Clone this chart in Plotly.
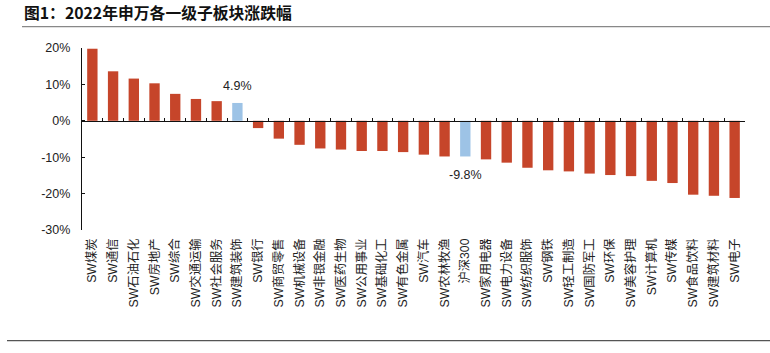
import plotly.graph_objects as go
import numpy as np

categories = ["SW煤炭", "SW通信", "SW石油石化", "SW房地产", "SW综合", "SW交通运输", "SW社会服务",
              "SW建筑装饰", "SW银行", "SW商贸零售", "SW机械设备", "SW非银金融", "SW医药生物",
              "SW公用事业", "SW基础化工", "SW有色金属", "SW汽车", "SW农林牧渔", "沪深300",
              "SW家用电器", "SW电力设备", "SW纺织服饰", "SW钢铁", "SW轻工制造", "SW国防军工",
              "SW环保", "SW美容护理", "SW计算机", "SW传媒", "SW食品饮料", "SW建筑材料", "SW电子"]
values = [19.8, 13.6, 11.6, 10.3, 7.4, 6.0, 5.4,
          4.9, -2.0, -4.9, -6.6, -7.6, -7.9,
          -8.3, -8.3, -8.6, -9.3, -9.8, -9.8,
          -10.6, -11.5, -12.9, -13.6, -13.9, -14.5,
          -14.9, -15.2, -16.5, -17.1, -20.3, -20.6, -21.2]
highlight = ["SW建筑装饰", "沪深300"]
y_ticks = [20, 10, 0, -10, -20, -30]
y_ticktext = ["20%", "10%", "0%", "-10%", "-20%", "-30%"]
title_text = "图1：2022年申万各一级子板块涨跌幅"

RED = "#C6452A"
BLUE = "#9DC3E6"
colors = [BLUE if c in highlight else RED for c in categories]

W, H = 770, 353
ML, MR, MT, MB = 82, 25, 47.5, 123
ymin, ymax = -30, 20
plot_h = H - MT - MB
plot_w = W - ML - MR

def py(pix):  # pixel y (from top) -> paper y
    return (H - MB - pix) / plot_h

def px(pix):  # pixel x -> paper x
    return (pix - ML) / plot_w

fig = go.Figure()
fig.add_trace(go.Bar(x=categories, y=values, marker=dict(color=colors, line=dict(width=0)),
                     width=0.5, hoverinfo="x+y", showlegend=False))
# invisible helper on overlay axis so its ticks render
n = len(categories)
fig.add_trace(go.Scatter(x=[-0.5, n - 0.5], y=[0, 0], xaxis="x2", mode="lines",
                         line=dict(width=0), hoverinfo="skip", showlegend=False))

font_fam = "Liberation Sans, Noto Sans CJK SC, sans-serif"

fig.update_layout(
    width=W, height=H,
    margin=dict(l=ML, r=MR, t=MT, b=MB, pad=0),
    paper_bgcolor="white", plot_bgcolor="white",
    font=dict(family=font_fam, size=12, color="#222"),
    xaxis=dict(type="category", categoryorder="array", categoryarray=categories,
               range=[-0.5, n - 0.5], showline=False, ticks="", showgrid=False,
               tickangle=-90, tickfont=dict(size=12.3, color="#222"), zeroline=False,
               ticklabelstandoff=5),
    xaxis2=dict(overlaying="x", anchor="free", position=(0 - ymin) / (ymax - ymin),
                range=[-0.5, n - 0.5], tickmode="array",
                tickvals=list(np.arange(n + 1) - 0.5), showticklabels=False,
                ticks="inside", ticklen=3, tickwidth=1, tickcolor="#111",
                showline=True, linecolor="#111", linewidth=1.3, showgrid=False, zeroline=False),
    yaxis=dict(range=[ymin, ymax], tickmode="array", tickvals=y_ticks, ticktext=y_ticktext,
               showline=True, linecolor="#111", linewidth=1.3, ticks="inside", ticklen=3,
               tickcolor="#111", showgrid=False, zeroline=False,
               tickfont=dict(size=12.5, color="#222"), ticklabelstandoff=8),
)

# labels for highlighted bars
for c in highlight:
    v = values[categories.index(c)]
    fig.add_annotation(x=c, y=v, text=f"{v:.1f}%", showarrow=False,
                       yanchor="bottom" if v > 0 else "top", yshift=8 if v > 0 else -10,
                       font=dict(size=12.5, color="#222", family=font_fam))

# title
fig.add_annotation(xref="paper", yref="paper", x=px(22), y=py(12), xanchor="left", yanchor="middle",
                   text="<b>" + title_text + "</b>", showarrow=False,
                   font=dict(size=15.8, color="#111", family="Noto Sans CJK SC, sans-serif"))
# decorative rules
fig.add_shape(type="line", xref="paper", yref="paper", x0=px(22), x1=px(770), y0=py(26), y1=py(26),
              line=dict(color="#888", width=1.2))
fig.add_shape(type="line", xref="paper", yref="paper", x0=px(7), x1=px(770), y0=py(341), y1=py(341),
              line=dict(color="#555", width=1.3))

fig.write_html("out.html")
